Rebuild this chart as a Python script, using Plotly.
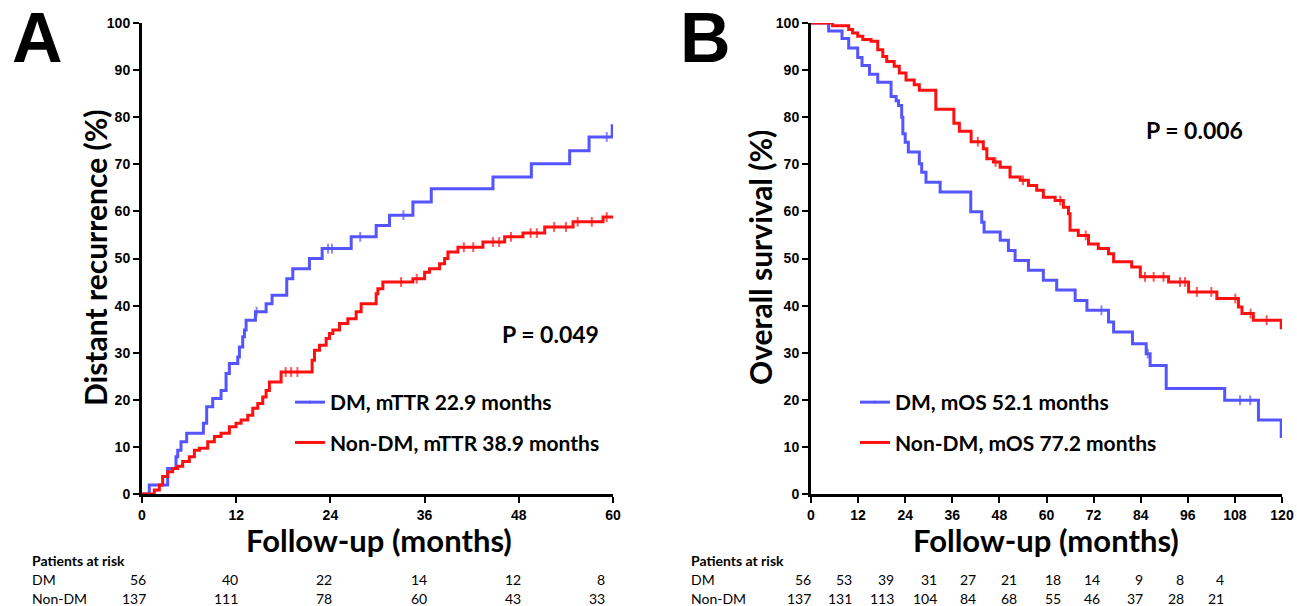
import plotly.graph_objects as go

# ---------------- DATA ----------------
# Panel A: distant recurrence (%) - step curve (event times in months, cumulative %)
a_dm_t = [0.93, 3.27, 4.33, 4.55, 4.97, 5.69, 7.82, 8.24, 9.01, 10.07, 10.71, 11.13, 12.2, 12.41,
          12.83, 13.05, 13.26, 14.45, 15.81, 16.57, 18.44, 19.21, 21.33, 22.95, 26.65, 29.83,
          31.53, 34.51, 36.85, 44.71, 49.6, 54.48, 56.95, 59.9]
a_dm_v = [1.9, 5.4, 7.9, 9.3, 11.1, 12.9, 15.0, 18.5, 20.3, 22.0, 25.6, 27.7, 29.1, 31.2,
          33.4, 34.8, 36.9, 38.7, 40.4, 42.2, 45.7, 47.8, 50.0, 52.1, 54.6, 57.0,
          59.2, 62.0, 64.8, 67.3, 70.1, 72.9, 75.8, 78.2]
a_dm_cens = [14.6, 23.7, 24.2, 27.8, 33.3, 59.2]

a_non_t = [1.57, 2.21, 2.63, 3.27, 3.91, 4.55, 5.18, 6.03, 6.67, 7.31, 8.37, 9.22, 10.07, 11.13,
           11.98, 12.62, 13.47, 14.11, 14.75, 15.38, 15.81, 16.23, 17.72, 21.67, 21.97, 22.61,
           23.46, 23.88, 24.31, 25.16, 26.22, 27.28, 27.92, 29.83, 30.05, 30.68, 34.51, 36.0,
           36.63, 37.91, 38.55, 38.97, 40.25, 43.43, 46.2, 48.53, 51.3, 54.91, 58.73]
a_non_v = [0.85, 1.9, 3.7, 4.7, 5.4, 5.9, 6.9, 7.9, 9.3, 9.7, 11.1, 12.2, 12.9, 14.3,
           15.0, 15.7, 16.7, 18.2, 19.2, 20.6, 22.0, 23.8, 25.9, 28.4, 30.5, 31.6,
           33.0, 34.1, 34.8, 36.2, 37.2, 38.7, 40.4, 42.5, 43.6, 45.0, 45.7, 47.1,
           47.8, 48.9, 50.0, 51.4, 52.4, 53.5, 54.6, 55.4, 56.7, 57.8, 58.8]
a_non_cens = [18.3, 19.0, 19.8, 33.0, 35.0, 41.0, 42.2, 44.7, 45.5, 47.0, 49.5, 50.3,
              52.5, 54.0, 55.5, 57.3, 59.2]

# Panel B: overall survival (%)
b_dm_t = [4.5, 7.9, 9.6, 11.9, 13.0, 14.9, 17.0, 20.4, 21.7, 22.3, 23.1, 23.4, 24.0, 24.8,
          27.6, 28.2, 29.3, 32.9, 40.7, 43.5, 44.1, 48.2, 50.3, 52.0, 55.4, 59.2, 62.6,
          67.3, 70.3, 75.8, 77.1, 81.9, 85.4, 86.4, 90.5, 105.4, 114.0, 119.8]
b_dm_v = [98.3, 96.7, 94.7, 92.7, 91.0, 89.1, 87.4, 84.4, 83.5, 82.5, 80.0, 76.5, 74.7, 72.6,
          70.1, 68.3, 66.2, 64.1, 59.9, 57.7, 55.6, 53.9, 51.7, 49.6, 47.5, 45.4, 43.3,
          41.1, 39.0, 36.5, 34.4, 31.9, 29.8, 27.3, 22.4, 19.9, 15.7, 12.2]
b_dm_cens = [74.0, 85.8, 109.3, 111.9]

b_non_t = [5.5, 9.6, 10.6, 11.9, 13.2, 15.3, 17.0, 18.3, 19.3, 21.2, 22.5, 24.2, 26.3, 27.6,
           31.8, 36.4, 37.8, 40.8, 43.9, 44.8, 46.5, 48.2, 50.7, 53.3, 55.4, 57.5, 59.2,
           62.2, 64.3, 65.6, 66.0, 68.1, 70.7, 73.2, 75.8, 77.1, 81.7, 83.9, 91.1, 96.2,
           103.4, 108.9, 109.8, 112.7, 119.8]
b_non_v = [99.4, 98.6, 97.9, 97.2, 96.5, 96.1, 94.3, 92.9, 91.8, 90.8, 89.4, 87.9, 86.9, 85.7,
           81.7, 78.7, 77.0, 74.8, 73.3, 71.2, 70.5, 69.4, 67.3, 66.6, 65.5, 64.5, 63.0,
           62.3, 60.9, 59.5, 56.0, 54.9, 53.1, 52.1, 51.0, 49.3, 48.2, 46.1, 45.0, 42.9,
           41.5, 39.7, 38.3, 36.9, 35.3]
b_non_cens = [42.5, 47.0, 54.0, 63.5, 70.0, 85.1, 87.3, 89.8, 94.0, 95.3, 98.3, 102.0,
              108.1, 112.0, 116.1]

# Patients at risk
risk_a_dm = [56, 40, 22, 14, 12, 8]
risk_a_non = [137, 111, 78, 60, 43, 33]
risk_b_dm = [56, 53, 39, 31, 27, 21, 18, 14, 9, 8, 4]
risk_b_non = [137, 131, 113, 104, 84, 68, 55, 46, 37, 28, 21]

names_a = ["DM, mTTR 22.9 months", "Non-DM, mTTR 38.9 months"]
names_b = ["DM, mOS 52.1 months", "Non-DM, mOS 77.2 months"]
x_ticks_a = list(range(0, 61, 12))
x_ticks_b = list(range(0, 121, 12))
y_ticks = list(range(0, 101, 10))

BLUE = "#5555FF"
RED = "#FF1010"

# ---------------- HELPERS ----------------
W, H = 1297, 606


def px(x):
    return x / W


def py(y):
    return 1 - y / H


def km(times, vals, cens, start, tend):
    pts = [(0.0, start, 0, 0)]
    for t, v in zip(times, vals):
        pts.append((t, v, 0, 0))
    for c in cens:
        v = start
        for t, val in zip(times, vals):
            if t <= c:
                v = val
        pts.append((c, v, 1, 1))
    pts.sort(key=lambda p: (p[0], p[2]))
    if pts[-1][0] < tend:
        pts.append((tend, pts[-1][1], 0, 0))
    xs = [p[0] for p in pts]
    ys = [p[1] for p in pts]
    sz = [7 if p[3] else 0 for p in pts]
    return xs, ys, sz


fig = go.Figure()

series = [
    (a_dm_t, a_dm_v, a_dm_cens, 0, 60, BLUE, names_a[0], "x", "y", "legend", "g1"),
    (a_non_t, a_non_v, a_non_cens, 0, 60, RED, names_a[1], "x", "y", "legend", "g2"),
    (b_dm_t, b_dm_v, b_dm_cens, 100, 120, BLUE, names_b[0], "x2", "y2", "legend2", "g3"),
    (b_non_t, b_non_v, b_non_cens, 100, 120, RED, names_b[1], "x2", "y2", "legend2", "g4"),
]
for t, v, c, s, te, col, nm, xa, ya, lg, grp in series:
    xs, ys, sz = km(t, v, c, s, te)
    fig.add_trace(go.Scatter(
        x=xs, y=ys, mode="lines+markers", name=nm, xaxis=xa, yaxis=ya,
        legend=lg, legendgroup=grp,
        line=dict(color=col, width=3, shape="hv"),
        marker=dict(symbol="line-ns", size=sz, color=col,
                    line=dict(color=col, width=2)),
        hoverinfo="skip",
    ))

tickfont = dict(family="Liberation Sans", size=14, color="black", weight="bold")
axis_common = dict(showline=True, linecolor="black", linewidth=3, ticks="outside",
                   ticklen=6, tickwidth=2, tickcolor="black", showgrid=False,
                   zeroline=False, tickfont=tickfont, automargin=False, mirror=False)

legfont = dict(family="Lato", size=21, color="black", weight="bold")
yd = [py(494), py(23)]
fig.update_layout(
    width=W, height=H, margin=dict(l=0, r=0, t=0, b=0),
    paper_bgcolor="white", plot_bgcolor="white",
    xaxis=dict(domain=[px(142), px(613)], range=[0, 60], tickvals=x_ticks_a,
               anchor="y", **axis_common),
    yaxis=dict(domain=yd, range=[0, 100], tickvals=y_ticks, anchor="x", **axis_common),
    xaxis2=dict(domain=[px(811), px(1282)], range=[0, 120], tickvals=x_ticks_b,
                anchor="y2", **axis_common),
    yaxis2=dict(domain=yd, range=[0, 100], tickvals=y_ticks, anchor="x2", **axis_common),
    legend=dict(x=px(290), y=py(382), xanchor="left", yanchor="top",
                bgcolor="rgba(0,0,0,0)", tracegroupgap=10, itemsizing="trace",
                font=legfont),
    legend2=dict(x=px(855), y=py(382), xanchor="left", yanchor="top",
                 bgcolor="rgba(0,0,0,0)", tracegroupgap=10, itemsizing="trace",
                 font=legfont),
    showlegend=True,
)

ann = []


def text(x, y, s, size, family="Lato", bold=True, xanchor="center", angle=0):
    ann.append(dict(x=px(x), y=py(y), xref="paper", yref="paper", text=s,
                    showarrow=False, xanchor=xanchor, yanchor="middle", textangle=angle,
                    font=dict(family=family, size=size, color="black",
                              weight="bold" if bold else "normal")))


# panel letters
text(37, 38, "A", 70, family="Liberation Sans")
text(705, 38, "B", 70, family="Liberation Sans")
# p-values
text(550, 334, "P = 0.049", 23)
text(1194, 130, "P = 0.006", 23)
# axis titles
text(379, 540, "Follow-up (months)", 31)
text(1046, 540, "Follow-up (months)", 31)
text(95, 258, "Distant recurrence (%)", 30, angle=-90)
text(760, 258, "Overall survival (%)", 30, angle=-90)

# patients at risk table
row_y = [560, 579, 598]
for lx in (30, 689):
    text(lx, row_y[0], "Patients at risk", 14, xanchor="left")
    text(lx, row_y[1], "DM", 14, bold=False, xanchor="left")
    text(lx, row_y[2], "Non-DM", 14, bold=False, xanchor="left")

ra_x = [148, 240, 334, 429, 523, 607]
rb_x = [813, 854, 896, 939, 978, 1019, 1063, 1102, 1145, 1186, 1226]
for xr, a, b in zip(ra_x, risk_a_dm, risk_a_non):
    text(xr, row_y[1], str(a), 14, bold=False, xanchor="right")
    text(xr, row_y[2], str(b), 14, bold=False, xanchor="right")
for xr, a, b in zip(rb_x, risk_b_dm, risk_b_non):
    text(xr, row_y[1], str(a), 14, bold=False, xanchor="right")
    text(xr, row_y[2], str(b), 14, bold=False, xanchor="right")

fig.update_layout(annotations=ann)
fig.write_html("out.html", config={"displayModeBar": False},
               post_script="document.body.style.margin='0px';"
                           "document.body.style.overflow='hidden';")
